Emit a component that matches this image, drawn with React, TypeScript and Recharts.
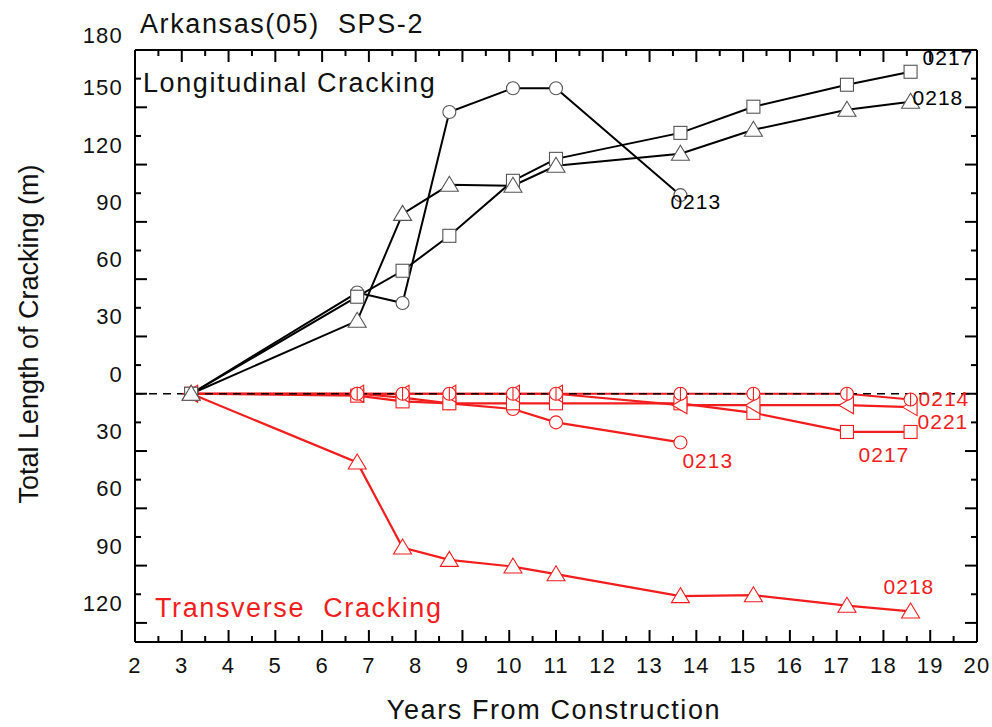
import React from 'react';
import { LineChart, Line, XAxis, YAxis, ReferenceLine } from 'recharts';

// ---------- data ----------
const years = [3.2, 6.75, 7.72, 8.72, 10.08, 11.0, 13.66, 15.22, 17.22, 18.58];
const years0213 = [3.2, 6.75, 7.72, 8.72, 10.08, 11.0, 13.66];

const longit0213 = [0, 53, 47.5, 147.5, 160, 160, 104];
const longit0217 = [0, 50.8, 64.4, 82.7, 111.5, 123, 136.6, 150.3, 161.8, 168.6];
const longit0218 = [0, 38.2, 94.2, 109.4, 108.9, 119.4, 125.7, 138.2, 148.7, 152.9];

const trans0213 = [0, 0, -2, -5, -8, -15, -25.5];
const trans0214 = [0, 0, 0, 0, 0, 0, 0, 0, 0, -3];
const trans0217 = [0, -1, -4, -5, -5, -5, -5, -10, -20, -20];
const trans0218 = [0, -36, -80.5, -87, -90.5, -94.5, -106, -105.5, -111, -114];
const trans0221 = [0, 0, 0, 0, 0, 0, -6, -6, -6, -7];

const xTicks = [2, 2.5, 3, 3.5, 4, 4.5, 5, 5.5, 6, 6.5, 7, 7.5, 8, 8.5, 9, 9.5, 10, 10.5, 11, 11.5,
  12, 12.5, 13, 13.5, 14, 14.5, 15, 15.5, 16, 16.5, 17, 17.5, 18, 18.5, 19, 19.5, 20];
const yTicks = [-120, -105, -90, -75, -60, -45, -30, -15, 0, 15, 30, 45, 60, 75, 90, 105, 120, 135, 150, 165, 180];
const yLabelValues = [180, 150, 120, 90, 60, 30, 0, -30, -60, -90, -120];

const toRows = (xs: number[], ys: number[]) => xs.map((x, i) => ({ x, y: ys[i] }));

const BLACK = '#000';
const MARK = '#555';
const RED = '#f21d1d';
const FONT = '"Liberation Sans", Arial, sans-serif';

// ---------- markers ----------
const CircleDot = (color: string) => (p: any) => (
  <circle key={`c${p.index}`} cx={p.cx} cy={p.cy} r={6.5} fill="#fff" stroke={color} strokeWidth={1.1} />
);
const CircleBarDot = (color: string) => (p: any) => (
  <g key={`cb${p.index}`}>
    <circle cx={p.cx} cy={p.cy} r={6.5} fill="#fff" stroke={color} strokeWidth={1.1} />
    <line x1={p.cx} x2={p.cx} y1={p.cy - 6.5} y2={p.cy + 6.5} stroke={color} strokeWidth={1.1} />
  </g>
);
const SquareDot = (color: string) => (p: any) => (
  <rect key={`s${p.index}`} x={p.cx - 6.5} y={p.cy - 6.5} width={13} height={13} fill="#fff" stroke={color} strokeWidth={1.1} />
);
const TriDot = (color: string) => (p: any) => (
  <polygon key={`t${p.index}`}
    points={`${p.cx},${p.cy - 8.5} ${p.cx - 9},${p.cy + 6.5} ${p.cx + 9},${p.cy + 6.5}`}
    fill="#fff" stroke={color} strokeWidth={1.1} />
);
const LeftTriDot = (color: string) => (p: any) => (
  <polygon key={`l${p.index}`}
    points={`${p.cx - 8},${p.cy} ${p.cx + 6.5},${p.cy - 8.5} ${p.cx + 6.5},${p.cy + 8.5}`}
    fill="#fff" stroke={color} strokeWidth={1.1} />
);

// ---------- end labels ----------
const endLabel = (text: string, color: string, lastIndex: number, dx: number, dy: number, size: number) => (p: any) => {
  if (p.index !== lastIndex) return <g key={`e${p.index}`} />;
  return (
    <text key={`e${p.index}`} x={p.x + dx} y={p.y + dy} fill={color} fontSize={size}
      fontFamily={FONT} style={{ letterSpacing: 1 }}>{text}</text>
  );
};

// ---------- ticks ----------
const BottomTick = (p: any) => {
  const v = p.payload.value;
  const major = Number.isInteger(v);
  return (
    <g>
      <line x1={p.x} x2={p.x} y1={p.y} y2={p.y - (major ? 12 : 6)} stroke="#000" strokeWidth={2} />
      {major && (
        <text x={p.x} y={p.y + 31} textAnchor="middle" fontSize={22} fontFamily={FONT} fill="#111"
          style={{ letterSpacing: 1.2 }}>{v}</text>
      )}
    </g>
  );
};
const TopTick = (p: any) => {
  const v = p.payload.value;
  const major = Number.isInteger(v);
  return <line x1={p.x} x2={p.x} y1={p.y} y2={p.y + (major ? 12 : 6)} stroke="#000" strokeWidth={2} />;
};
const LeftTick = (p: any) => {
  const v = p.payload.value;
  const major = v % 30 === 0;
  const showLabel = yLabelValues.includes(v);
  const off = v === 180 ? -7 : -12;
  return (
    <g>
      <line x1={p.x} x2={p.x + (major ? 12 : 6)} y1={p.y} y2={p.y} stroke="#000" strokeWidth={2} />
      {showLabel && (
        <text x={p.x - 12} y={p.y + off} textAnchor="end" fontSize={22} fontFamily={FONT} fill="#111"
          style={{ letterSpacing: 1.2 }}>{Math.abs(v)}</text>
      )}
    </g>
  );
};
const RightTick = (p: any) => {
  const v = p.payload.value;
  const major = v % 30 === 0;
  return <line x1={p.x} x2={p.x - (major ? 12 : 6)} y1={p.y} y2={p.y} stroke="#000" strokeWidth={2} />;
};

export default function App() {
  const common = { xAxisId: 'b', yAxisId: 'l', dataKey: 'y', isAnimationActive: false, type: 'linear' as const };
  return (
    <div style={{ position: 'absolute', left: 0, top: 0, width: 992, height: 727, background: '#fff', overflow: 'hidden' }}>
      <LineChart width={992} height={727} margin={{ top: 0, right: 0, bottom: 0, left: 0 }}>
        <XAxis xAxisId="b" dataKey="x" type="number" domain={[2, 20]} ticks={xTicks} interval={0}
          allowDataOverflow height={85} tickSize={0} tickMargin={0} tickLine={false}
          axisLine={{ stroke: '#000', strokeWidth: 2 }} tick={BottomTick} />
        <XAxis xAxisId="t" orientation="top" dataKey="x" type="number" domain={[2, 20]} ticks={xTicks} interval={0}
          allowDataOverflow height={50} tickSize={0} tickMargin={0} tickLine={false}
          axisLine={{ stroke: '#000', strokeWidth: 2 }} tick={TopTick} />
        <YAxis yAxisId="l" type="number" domain={[-130, 180]} ticks={yTicks} interval={0}
          allowDataOverflow width={135} tickSize={0} tickMargin={0} tickLine={false}
          axisLine={{ stroke: '#000', strokeWidth: 2 }} tick={LeftTick} />
        <YAxis yAxisId="r" orientation="right" type="number" domain={[-130, 180]} ticks={yTicks} interval={0}
          allowDataOverflow width={15} tickSize={0} tickMargin={0} tickLine={false}
          axisLine={{ stroke: '#000', strokeWidth: 2 }} tick={RightTick} />

        <Line {...common} data={toRows(years, trans0218)} stroke={RED} strokeWidth={2.2}
          dot={TriDot(RED)} label={endLabel('0218', RED, 9, -27, -17, 21)} />
        <Line {...common} data={toRows(years0213, trans0213)} stroke={RED} strokeWidth={2.2}
          dot={CircleDot(RED)} label={endLabel('0213', RED, 6, 2, 26, 21)} />
        <Line {...common} data={toRows(years, trans0217)} stroke={RED} strokeWidth={2.2}
          dot={SquareDot(RED)} label={endLabel('0217', RED, 9, -52, 30, 21)} />
        <Line {...common} data={toRows(years, trans0221)} stroke={RED} strokeWidth={2.2}
          dot={LeftTriDot(RED)} label={endLabel('0221', RED, 9, 7, 22, 21)} />
        <Line {...common} data={toRows(years, trans0214)} stroke={RED} strokeWidth={2.2}
          dot={CircleBarDot(RED)} label={endLabel('0214', RED, 9, 8, 7, 21)} />

        <ReferenceLine xAxisId="b" yAxisId="l" y={0} stroke="#000" strokeWidth={1.6} strokeDasharray="8 6" />

        <Line {...common} data={toRows(years0213, longit0213)} stroke={BLACK} strokeWidth={2}
          dot={CircleDot(MARK)} label={endLabel('0213', BLACK, 6, -10, 14, 21)} />
        <Line {...common} data={toRows(years, longit0217)} stroke={BLACK} strokeWidth={2}
          dot={SquareDot(MARK)} label={endLabel('0217', BLACK, 9, 12, -7, 21)} />
        <Line {...common} data={toRows(years, longit0218)} stroke={BLACK} strokeWidth={2}
          dot={TriDot(MARK)} label={endLabel('0218', BLACK, 9, 2, 3, 21)} />
      </LineChart>

      <svg width={992} height={727} style={{ position: 'absolute', left: 0, top: 0, pointerEvents: 'none' }}>
        <text x={140} y={33} fontSize={27} fontFamily={FONT} fill="#111" style={{ whiteSpace: 'pre', letterSpacing: 1.6 }}>
          Arkansas(05)  SPS-2
        </text>
        <text x={143} y={92} fontSize={27} fontFamily={FONT} fill="#111" style={{ letterSpacing: 1.6 }}>
          Longitudinal Cracking
        </text>
        <text x={155} y={617} fontSize={27} fontFamily={FONT} fill={RED} style={{ whiteSpace: 'pre', letterSpacing: 1.6 }}>
          Transverse  Cracking
        </text>
        <text x={554} y={719} textAnchor="middle" fontSize={27} fontFamily={FONT} fill="#111" style={{ letterSpacing: 1.6 }}>
          Years From Construction
        </text>
        <text x={38} y={334} textAnchor="middle" fontSize={27} fontFamily={FONT} fill="#111"
          transform="rotate(-90, 38, 334)">
          Total Length of Cracking (m)
        </text>
      </svg>
    </div>
  );
}
